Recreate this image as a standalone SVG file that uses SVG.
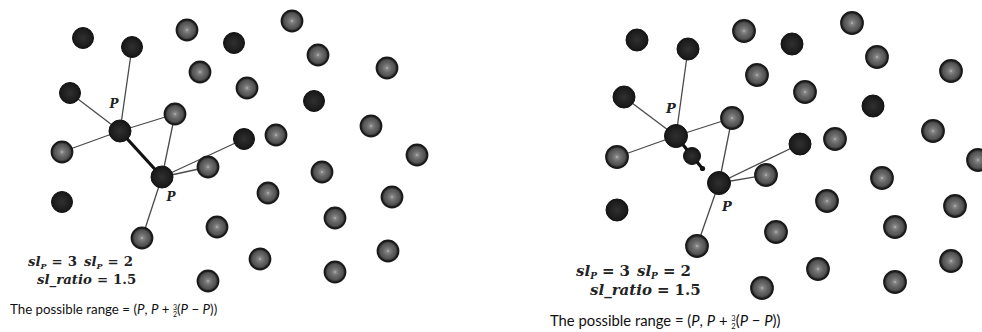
<svg xmlns="http://www.w3.org/2000/svg" width="982" height="332" viewBox="0 0 982 332">
<defs>
<radialGradient id="gg" cx="50%" cy="50%" r="50%">
<stop offset="0%" stop-color="#d8d8d8"/>
<stop offset="10%" stop-color="#8a8a8a"/>
<stop offset="45%" stop-color="#666"/>
<stop offset="72%" stop-color="#555"/>
<stop offset="88%" stop-color="#363636"/>
<stop offset="100%" stop-color="#1a1a1a"/>
</radialGradient>
<radialGradient id="dg" cx="50%" cy="50%" r="50%">
<stop offset="0%" stop-color="#303030"/>
<stop offset="80%" stop-color="#1c1c1c"/>
<stop offset="100%" stop-color="#121212"/>
</radialGradient>
</defs>
<style>
.g{fill:url(#gg);stroke:#1a1a1a;stroke-width:1.8}
.d{fill:url(#dg);stroke:#151515;stroke-width:1}
.t{stroke:#4a4a4a;stroke-width:1.3;fill:none}
.k{stroke:#111;stroke-width:3.2;fill:none;stroke-linecap:round}
.lbl{font-family:"DejaVu Serif",serif;font-style:italic;font-weight:bold;fill:#222}
.m{font-family:"DejaVu Serif",serif;font-weight:bold;fill:#222}
.i{font-style:italic}
.s{font-family:"Lato","Liberation Sans",sans-serif;fill:#111}
</style>
<rect width="982" height="332" fill="#fff"/>
<g id="connectors">
<line class="t" x1="120" y1="131" x2="132" y2="47"/>
<line class="t" x1="120" y1="131" x2="70" y2="93"/>
<line class="t" x1="120" y1="131" x2="62" y2="152"/>
<line class="t" x1="120" y1="131" x2="175" y2="114"/>
<line class="t" x1="162" y1="177" x2="175" y2="114"/>
<line class="t" x1="162" y1="177" x2="244" y2="139"/>
<line class="t" x1="162" y1="177" x2="208" y2="167"/>
<line class="t" x1="162" y1="177" x2="142" y2="238"/>
<line class="k" x1="120" y1="131" x2="162" y2="177"/>
<line class="t" x1="676" y1="136" x2="688" y2="49"/>
<line class="t" x1="676" y1="136" x2="624" y2="97"/>
<line class="t" x1="676" y1="136" x2="617" y2="157"/>
<line class="t" x1="676" y1="136" x2="732" y2="118"/>
<line class="t" x1="719" y1="183" x2="732" y2="118"/>
<line class="t" x1="719" y1="183" x2="800" y2="144"/>
<line class="t" x1="719" y1="183" x2="766" y2="175"/>
<line class="t" x1="719" y1="183" x2="697" y2="246"/>
<line class="k" x1="676" y1="136" x2="692" y2="156"/>
<line class="k" x1="692" y1="156" x2="702" y2="168"/>
<circle cx="702.5" cy="168.5" r="2.6" fill="#111"/>
</g>
<g id="left-panel">
<circle id="L1" class="d" cx="83" cy="38" r="10.5"/>
<circle id="L2" class="d" cx="132" cy="47" r="10.5"/>
<circle id="L3" class="d" cx="234" cy="43" r="10.5"/>
<circle id="L4" class="d" cx="70" cy="93" r="10.5"/>
<circle id="L5" class="d" cx="244" cy="139" r="10.5"/>
<circle id="L6" class="d" cx="62" cy="202" r="10.5"/>
<circle id="L7" class="d" cx="314" cy="101" r="10.5"/>
<circle id="L8" class="g" cx="187" cy="30" r="10.5"/>
<circle id="L9" class="g" cx="200" cy="72" r="10.5"/>
<circle id="L10" class="g" cx="247" cy="88" r="10.5"/>
<circle id="L11" class="g" cx="175" cy="114" r="10.5"/>
<circle id="L12" class="g" cx="62" cy="152" r="10.5"/>
<circle id="L13" class="g" cx="208" cy="167" r="10.5"/>
<circle id="L14" class="g" cx="142" cy="238" r="10.5"/>
<circle id="L15" class="g" cx="217" cy="227" r="10.5"/>
<circle id="L16" class="g" cx="208" cy="281" r="10.5"/>
<circle id="L17" class="g" cx="292" cy="21" r="10.5"/>
<circle id="L18" class="g" cx="318" cy="55" r="10.5"/>
<circle id="L19" class="g" cx="387" cy="68" r="10.5"/>
<circle id="L20" class="g" cx="276" cy="135" r="10.5"/>
<circle id="L21" class="g" cx="371" cy="126" r="10.5"/>
<circle id="L22" class="g" cx="417" cy="155" r="10.5"/>
<circle id="L23" class="g" cx="322" cy="172" r="10.5"/>
<circle id="L24" class="g" cx="268" cy="193" r="10.5"/>
<circle id="L25" class="g" cx="335" cy="218" r="10.5"/>
<circle id="L26" class="g" cx="392" cy="197" r="10.5"/>
<circle id="L27" class="g" cx="260" cy="259" r="10.5"/>
<circle id="L28" class="g" cx="335" cy="272" r="10.5"/>
<circle id="L29" class="g" cx="388" cy="251" r="10.5"/>
<g id="LP1"><circle class="d" cx="120" cy="131" r="11"/><text class="lbl" x="114" y="108" font-size="12" text-anchor="middle">P</text></g>
<g id="LP2"><circle class="d" cx="162" cy="177" r="11"/><text class="lbl" x="171" y="201" font-size="12" text-anchor="middle">P</text></g>
<text class="m" x="28" y="266" font-size="13.3"><tspan class="i">sl</tspan><tspan class="i" font-size="8" dy="3">P</tspan><tspan dy="-3" dx="5">=</tspan><tspan dx="5">3</tspan><tspan class="i" dx="7">sl</tspan><tspan class="i" font-size="8" dy="3">P</tspan><tspan dy="-3" dx="5">=</tspan><tspan dx="5">2</tspan></text>
<text class="m" x="37" y="284" font-size="13.3"><tspan class="i">sl_ratio</tspan><tspan dx="5">=</tspan><tspan dx="5">1.5</tspan></text>
<text class="s" x="10" y="314" font-size="13.3">The possible range = (<tspan class="i">P</tspan>, <tspan class="i">P</tspan> + <tspan font-size="7" dy="-4.5">3</tspan><tspan font-size="7" dx="-4" dy="7">2</tspan><tspan dy="-2.5">(</tspan><tspan class="i">P</tspan> − <tspan class="i">P</tspan>))</text>
</g>
<g id="right-panel">
<circle id="R1" class="d" cx="637" cy="40" r="11"/>
<circle id="R2" class="d" cx="688" cy="49" r="11"/>
<circle id="R3" class="d" cx="792" cy="44" r="11"/>
<circle id="R4" class="d" cx="624" cy="97" r="11"/>
<circle id="R5" class="d" cx="800" cy="144" r="11"/>
<circle id="R6" class="d" cx="617" cy="210" r="11"/>
<circle id="R7" class="d" cx="873" cy="106" r="11"/>
<circle id="R8" class="g" cx="744" cy="31" r="11"/>
<circle id="R9" class="g" cx="757" cy="75" r="11"/>
<circle id="R10" class="g" cx="805" cy="92" r="11"/>
<circle id="R11" class="g" cx="732" cy="118" r="11"/>
<circle id="R12" class="g" cx="617" cy="157" r="11"/>
<circle id="R13" class="g" cx="766" cy="175" r="11"/>
<circle id="R14" class="g" cx="697" cy="246" r="11"/>
<circle id="R15" class="g" cx="776" cy="232" r="11"/>
<circle id="R16" class="g" cx="762" cy="288" r="11"/>
<circle id="R17" class="g" cx="852" cy="23" r="11"/>
<circle id="R18" class="g" cx="877" cy="57" r="11"/>
<circle id="R19" class="g" cx="951" cy="71" r="11"/>
<circle id="R20" class="g" cx="835" cy="139" r="11"/>
<circle id="R21" class="g" cx="933" cy="131" r="11"/>
<circle id="R22" class="g" cx="978" cy="160" r="11"/>
<circle id="R23" class="g" cx="882" cy="178" r="11"/>
<circle id="R24" class="g" cx="827" cy="201" r="11"/>
<circle id="R25" class="g" cx="895" cy="227" r="11"/>
<circle id="R26" class="g" cx="955" cy="206" r="11"/>
<circle id="R27" class="g" cx="818" cy="269" r="11"/>
<circle id="R28" class="g" cx="895" cy="282" r="11"/>
<circle id="R29" class="g" cx="951" cy="261" r="11"/>
<g id="RP1"><circle class="d" cx="676" cy="136" r="11.5"/><text class="lbl" x="671" y="113" font-size="13" text-anchor="middle">P</text></g>
<circle id="RS" class="d" cx="692" cy="156" r="8.5"/>
<g id="RP2"><circle class="d" cx="719" cy="183" r="11.5"/><text class="lbl" x="727" y="211" font-size="13" text-anchor="middle">P</text></g>
<text class="m" x="576" y="276" font-size="15"><tspan class="i">sl</tspan><tspan class="i" font-size="9" dy="3">P</tspan><tspan dy="-3" dx="5">=</tspan><tspan dx="5">3</tspan><tspan class="i" dx="7">sl</tspan><tspan class="i" font-size="9" dy="3">P</tspan><tspan dy="-3" dx="5">=</tspan><tspan dx="5">2</tspan></text>
<text class="m" x="590" y="295" font-size="15"><tspan class="i">sl_ratio</tspan><tspan dx="5">=</tspan><tspan dx="5">1.5</tspan></text>
<text class="s" x="550" y="326" font-size="14.8">The possible range = (<tspan class="i">P</tspan>, <tspan class="i">P</tspan> + <tspan font-size="7.5" dy="-5">3</tspan><tspan font-size="7.5" dx="-4.3" dy="7.5">2</tspan><tspan dy="-2.5">(</tspan><tspan class="i">P</tspan> − <tspan class="i">P</tspan>))</text>
</g>
</svg>
